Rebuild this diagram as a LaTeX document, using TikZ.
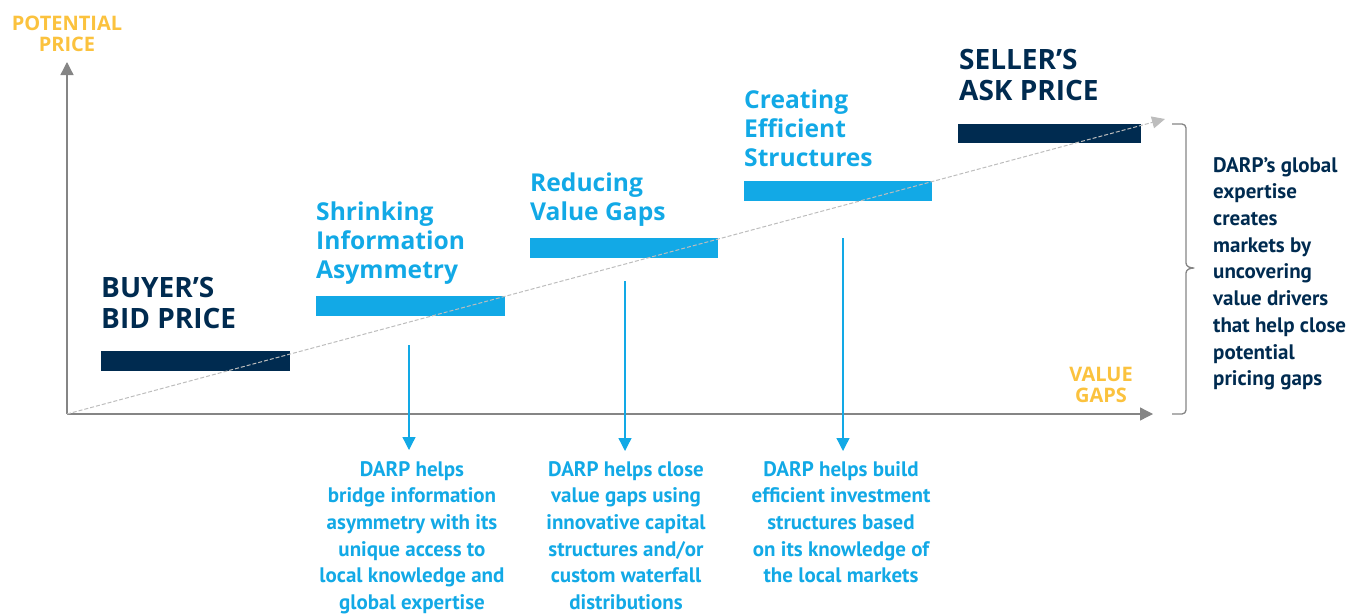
\documentclass[tikz,border=0pt]{standalone}
\usepackage{fontspec}
\setmainfont{Open Sans}
\newfontfamily\headf{Open Sans}
\newfontfamily\condf{PT Sans}
\usetikzlibrary{arrows.meta}
\definecolor{navy}{HTML}{002B50}
\definecolor{sky}{HTML}{12A9E6}
\definecolor{gold}{HTML}{FBC23E}
\definecolor{axisgray}{HTML}{858585}
\definecolor{lightgray}{HTML}{BDBDBD}
\tikzset{
  darkbar/.style={fill=navy, draw=none},
  lightbar/.style={fill=sky, draw=none},
  axislbl/.style={text=gold, font=\headf\bfseries\fontsize{20}{21.5}\selectfont, align=center, inner sep=0pt},
  bighead/.style={text=navy, font=\headf\bfseries\fontsize{28}{31.5}\selectfont, align=left, anchor=north west, inner sep=0pt},
  subhead/.style={text=sky, font=\headf\bfseries\fontsize{24.6}{29}\selectfont, align=left, anchor=north west, inner sep=0pt},
  desc/.style={text=sky, font=\condf\bfseries\fontsize{21}{26.7}\selectfont, align=center, anchor=north, inner sep=0pt},
  axisline/.style={draw=axisgray, line width=1.3pt, -{Triangle[length=13pt,width=13pt]}},
  downarrow/.style={draw=sky, line width=1.3pt, -{Triangle[length=13pt,width=13pt]}},
}
\begin{document}
\begin{tikzpicture}[x=1pt,y=-1pt]
\useasboundingbox (0,0) rectangle (1351,613);
% axes
\coordinate (O) at (67,414);
\coordinate (ytop) at (67,62);
\coordinate (xend) at (1153,414);
\coordinate (dtip) at (1165,119);
\draw[axisline] (O) -- (ytop);
\draw[axisline] (O) -- (xend);
\node[axislbl] (potprice) at (67,34) {POTENTIAL\\PRICE};
\node[axislbl] (valgaps) at (1101,385) {VALUE\\GAPS};
% bars
\node[darkbar, minimum width=189pt, minimum height=20pt, inner sep=0pt] (b1) at (195.5,361) {};
\node[lightbar, minimum width=189pt, minimum height=20pt, inner sep=0pt] (b2) at (410.5,306) {};
\node[lightbar, minimum width=188pt, minimum height=20pt, inner sep=0pt] (b3) at (624,248) {};
\node[lightbar, minimum width=188pt, minimum height=20pt, inner sep=0pt] (b4) at (838,191) {};
\node[darkbar, minimum width=183pt, minimum height=19pt, inner sep=0pt] (b5) at (1049.5,133.5) {};
% diagonal dashed line
\draw[lightgray, line width=1pt, dash pattern=on 4pt off 2pt, -{Triangle[length=13pt,width=12pt]}] (O) -- (dtip);
% headings
\node[bighead] (h1) at (101,277) {BUYER’S\\BID PRICE};
\node[subhead] (h2) at (316,202) {Shrinking\\Information\\Asymmetry};
\node[subhead] (h3) at (530,173) {Reducing\\Value Gaps};
\node[subhead] (h4) at (744,90) {Creating\\Efficient\\Structures};
\node[bighead] (h5) at (959,49) {SELLER’S\\ASK PRICE};
% descriptions
\node[desc] (d1) at (412,461) {DARP helps\\bridge information\\asymmetry with its\\unique access to\\local knowledge and\\global expertise};
\node[desc] (d2) at (626,461) {DARP helps close\\value gaps using\\innovative capital\\structures and/or\\custom waterfall\\distributions};
\node[desc] (d3) at (841,461) {DARP helps build\\efficient investment\\structures based\\on its knowledge of\\the local markets};
% down arrows
\coordinate (a1s) at (409,345);
\coordinate (a2s) at (625,281);
\coordinate (a3s) at (843,238);
\draw[downarrow] (a1s) -- (409,450);
\draw[downarrow] (a2s) -- (625,451);
\draw[downarrow] (a3s) -- (843,451);
% bracket
\coordinate (brtop) at (1172,124);
\coordinate (brbot) at (1172,414);
\coordinate (brtip) at (1194,268);
\draw[axisgray, line width=1.3pt, line join=round]
  (brtop) -- (1182,124) to[out=0,in=90] (1186,128) -- (1186,263)
  to[out=-90,in=180] (brtip) to[out=180,in=90] (1186,273) -- (1186,410)
  to[out=-90,in=0] (1182,414) -- (brbot);
\node[text=navy, font=\condf\bfseries\fontsize{21}{26.7}\selectfont, align=left, anchor=north west, inner sep=0pt] (side) at (1213,157) {DARP’s global\\expertise\\creates\\markets by\\uncovering\\value drivers\\that help close\\potential\\pricing gaps};
\end{tikzpicture}
\end{document}
